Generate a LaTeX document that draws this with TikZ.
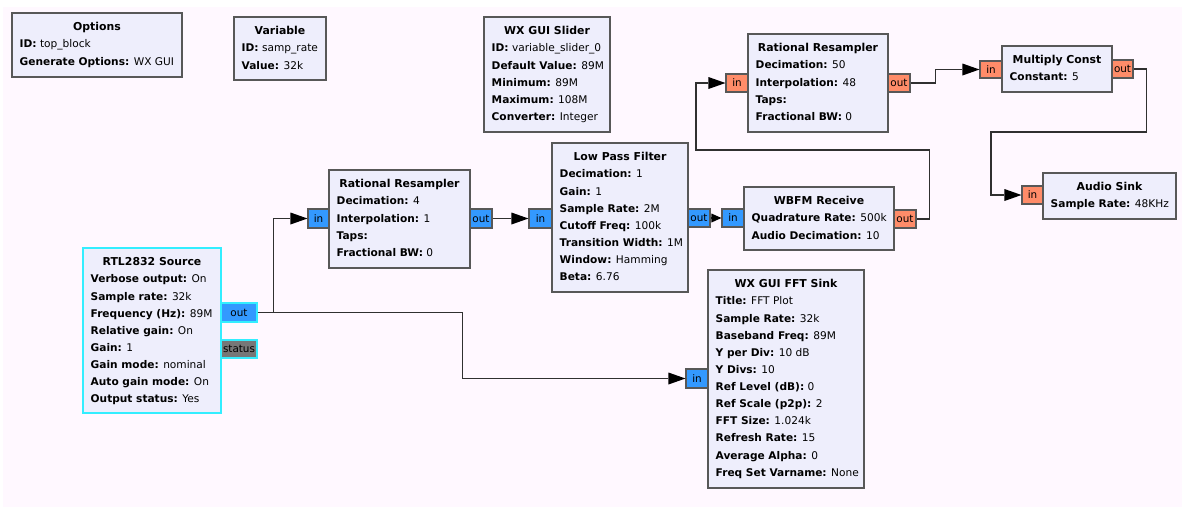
\documentclass[tikz,border=0pt]{standalone}
\usepackage{fontspec}
\setmainfont{DejaVu Sans}
\usetikzlibrary{arrows.meta,fit,calc}
\definecolor{bgpink}{HTML}{FFF8FF}
\definecolor{blkfill}{HTML}{EEEEFC}
\definecolor{blkline}{HTML}{585858}
\definecolor{cplx}{HTML}{3399FF}
\definecolor{flt}{HTML}{FF8C69}
\definecolor{msg}{HTML}{777777}
\definecolor{selc}{HTML}{33EEFF}
\definecolor{wire}{HTML}{303030}
\tikzset{
  blk/.style={draw=blkline, fill=blkfill, line width=1.3pt, inner sep=0pt},
  selblk/.style={draw=selc, fill=blkfill, line width=1.3pt, inner sep=0pt},
  ttl/.style={font=\fontsize{10.9}{17.14}\selectfont\bfseries, inner sep=0pt},
  fld/.style={font=\fontsize{10.6}{17.14}\selectfont, inner sep=0pt, align=left},
  prt/.style={draw=blkline, line width=1.1pt, inner sep=0pt, font=\fontsize{10.4}{12}\selectfont},
  cport/.style={prt, fill=cplx},
  fport/.style={prt, fill=flt},
  conn/.style={draw=wire, line width=1.1pt, -{Triangle[length=17pt,width=12pt,fill=black,line width=0pt]}},
  sconn/.style={draw=wire, line width=1.1pt, -{Triangle[length=10pt,width=9pt,fill=black,line width=0pt]}},
}
\newcommand\grcblock[8][blk]{%
  \node[#1, fit={(#3,#4) (#5,#6)}] (#2) {};
  \node[ttl, anchor=base] (#2-t) at ({(#3+#5)/2},{#4+17.5}) {#7};
  \node[fld, anchor=north west] (#2-f) at ({#3+7.5},{#4+17.5+17.14-11.97}) {\strut #8};
}
% name, center x, center y, width, height, style, text
\newcommand\grcport[7]{%
  \node[#6, minimum width=#4pt, minimum height=#5pt] (#1) at (#2,#3) {#7};
}
\newcommand\fb[1]{\textbf{#1}}
\begin{document}
\begin{tikzpicture}[x=1pt,y=-1pt]
\useasboundingbox (0,0) rectangle (1182,509);
\fill[white] (0,0) rectangle (1182,509);
\fill[bgpink] (3,7) rectangle (1182,507);

% blocks
\grcblock{opt}{12}{13}{182}{77}{Options}{\fb{ID:} top\_block\\\fb{Generate Options:} WX GUI}
\grcblock{var}{234}{17}{326}{80}{Variable}{\fb{ID:} samp\_rate\\\fb{Value:} 32k}
\grcblock{sld}{484}{17}{610}{132}{WX GUI Slider}{\fb{ID:} variable\_slider\_0\\\fb{Default Value:} 89M\\\fb{Minimum:} 89M\\\fb{Maximum:} 108M\\\fb{Converter:} Integer}
\grcblock{rr1}{748}{34}{888}{132}{Rational Resampler}{\fb{Decimation:} 50\\\fb{Interpolation:} 48\\\fb{Taps:}\\\fb{Fractional BW:} 0}
\grcblock{mc}{1002}{46}{1112}{92}{Multiply Const}{\fb{Constant:} 5}
\grcblock{as}{1043}{173}{1176}{219}{Audio Sink}{\fb{Sample Rate:} 48KHz}
\grcblock[selblk]{rtl}{83}{248}{221}{413}{RTL2832 Source}{\fb{Verbose output:} On\\\fb{Sample rate:} 32k\\\fb{Frequency (Hz):} 89M\\\fb{Relative gain:} On\\\fb{Gain:} 1\\\fb{Gain mode:} nominal\\\fb{Auto gain mode:} On\\\fb{Output status:} Yes}
\grcblock{rr2}{329}{170}{470}{268}{Rational Resampler}{\fb{Decimation:} 4\\\fb{Interpolation:} 1\\\fb{Taps:}\\\fb{Fractional BW:} 0}
\grcblock{lpf}{552}{143}{688}{292}{Low Pass Filter}{\fb{Decimation:} 1\\\fb{Gain:} 1\\\fb{Sample Rate:} 2M\\\fb{Cutoff Freq:} 100k\\\fb{Transition Width:} 1M\\\fb{Window:} Hamming\\\fb{Beta:} 6.76}
\grcblock{wb}{744}{187}{894}{250}{WBFM Receive}{\fb{Quadrature Rate:} 500k\\\fb{Audio Decimation:} 10}
\grcblock{fft}{708}{270}{864}{488}{WX GUI FFT Sink}{\fb{Title:} FFT Plot\\\fb{Sample Rate:} 32k\\\fb{Baseband Freq:} 89M\\\fb{Y per Div:} 10 dB\\\fb{Y Divs:} 10\\\fb{Ref Level (dB):} 0\\\fb{Ref Scale (p2p):} 2\\\fb{FFT Size:} 1.024k\\\fb{Refresh Rate:} 15\\\fb{Average Alpha:} 0\\\fb{Freq Set Varname:} None}

% ports
\grcport{rtl-out}{239}{312.5}{36}{19}{cport,draw=selc}{out}
\grcport{rtl-st}{239}{349}{36}{18}{prt,fill=msg,draw=selc}{status}
\grcport{rr2-in}{318.5}{218.5}{21}{19}{cport}{in}
\grcport{rr2-out}{481}{218.5}{22}{19}{cport}{out}
\grcport{lpf-in}{540.5}{218.5}{23}{19}{cport}{in}
\grcport{lpf-out}{699}{218}{22}{18}{cport}{out}
\grcport{wb-in}{733}{218}{22}{18}{cport}{in}
\grcport{wb-out}{905}{219}{22}{18}{fport}{out}
\grcport{rr1-in}{737}{83}{22}{18}{fport}{in}
\grcport{rr1-out}{899}{83}{22}{18}{fport}{out}
\grcport{mc-in}{991}{69.5}{22}{17}{fport}{in}
\grcport{mc-out}{1122.5}{69}{21}{18}{fport}{out}
\grcport{as-in}{1032.5}{195}{21}{18}{fport}{in}
\grcport{fft-in}{697}{378.5}{22}{19}{cport}{in}

% bend points
\coordinate (fbk) at (696,150);
\coordinate (abk) at (991,132);

% connectors
\draw[conn] (rtl-out.east) -- ++(16,0) |- (rr2-in.west);
\draw[conn] (rtl-out.east) -- ++(205,0) |- (fft-in.west);
\draw[conn] (rr2-out.east) -- (lpf-in.west);
\draw[sconn] (lpf-out.east) -- (wb-in.west);
\draw[conn] (wb-out.east) -- ++(13,0) |- (fbk) |- (rr1-in.west);
\draw[conn] (rr1-out.east) -- ++(25,0) |- (mc-in.west);
\draw[conn] (mc-out.east) -- ++(13,0) |- (abk) |- (as-in.west);
\end{tikzpicture}
\end{document}
